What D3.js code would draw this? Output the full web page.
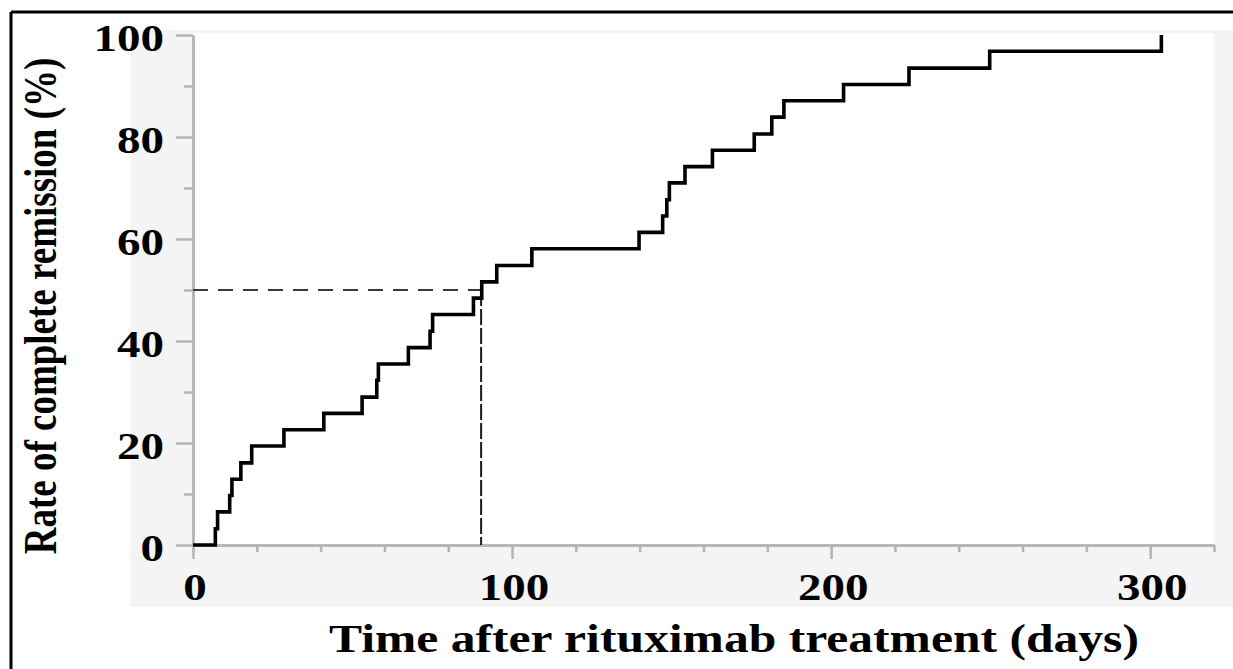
<!DOCTYPE html>
<html>
<head>
<meta charset="utf-8">
<script src="https://cdn.jsdelivr.net/npm/d3@7"></script>
<style>
    body { margin: 0; background: #fff; }
    svg { display: block; }
    .lbl { font-family: "Liberation Serif", "Times New Roman", serif; font-weight: bold; fill: #000; }
</style>
</head>
<body>
<div id="chart"></div>
<script>
// step times (days) and cumulative rate of complete remission (%)
var days = [0, 7, 7.7, 11.5, 12.2, 15, 18.4, 28.5, 41, 53, 57.6, 58.1, 67.5, 74.3, 75.1, 87.9, 90.5, 95.2, 106.2,
    139.8, 147.2, 148.5, 149.3, 154.2, 162.8, 175.9, 181.4, 185.2, 203.9, 224.4, 249.7, 303.5];
var rates = [0, 3.2, 6.5, 9.7, 12.9, 16.1, 19.4, 22.6, 25.8, 29.0, 32.3, 35.5, 38.7, 41.9, 45.2, 48.4, 51.6, 54.8, 58.1,
    61.3, 64.5, 67.7, 71.0, 74.2, 77.4, 80.6, 83.9, 87.1, 90.3, 93.5, 96.8, 100];
var yTicks = [0, 20, 40, 60, 80, 100];
var yMinorTicks = [10, 30, 50, 70, 90];
var xTicks = [0, 100, 200, 300];
var xMinorTicks = [20, 40, 60, 80, 120, 140, 160, 180, 220, 240, 260, 280, 320];
var median = { day: 90.3, rate: 50 };
var xTitle = "Time after rituximab treatment (days)";
var yTitle = "Rate of complete remission (%)";

var width = 1233, height = 669;
var stretch = 1.27; // the source picture is stretched sideways

var svg = d3.select("#chart").append("svg")
    .attr("width", width)
    .attr("height", height);

var x = d3.scaleLinear().domain([0, 320]).range([193, 1214]);
var y = d3.scaleLinear().domain([0, 100]).range([545, 35]);

// frame (top + left only) and grey panel
svg.append("rect").attr("x", 130).attr("y", 30).attr("width", width - 130).attr("height", 577).attr("fill", "#f4f4f4");
svg.append("rect").attr("x", x(0)).attr("y", 33).attr("width", x(320) - x(0)).attr("height", y(0) - 33).attr("fill", "#fff");
svg.append("line").attr("x1", 11).attr("x2", width).attr("y1", 12).attr("y2", 12).attr("stroke", "#000").attr("stroke-width", 3);
svg.append("line").attr("x1", 11).attr("x2", 11).attr("y1", 12).attr("y2", height).attr("stroke", "#000").attr("stroke-width", 3);

function styleAxis(g) {
    g.select(".domain").attr("stroke", "#b4b4b4").attr("stroke-width", 2.5);
    g.selectAll(".tick line").attr("stroke", "#b4b4b4").attr("stroke-width", 2.5);
    g.selectAll(".tick text").remove();
}

// y axis, major + minor ticks
svg.append("g").attr("transform", "translate(" + x(0) + ",0)")
    .call(d3.axisLeft(y).tickValues(yTicks).tickSize(17).tickSizeOuter(0))
    .call(styleAxis);
svg.append("g").attr("transform", "translate(" + x(0) + ",0)")
    .call(d3.axisLeft(y).tickValues(yMinorTicks).tickSize(9).tickSizeOuter(0))
    .call(styleAxis);

// x axis, major + minor ticks
svg.append("g").attr("transform", "translate(0," + y(0) + ")")
    .call(d3.axisBottom(x).tickValues(xTicks).tickSize(14).tickSizeOuter(0))
    .call(styleAxis);
svg.append("g").attr("transform", "translate(0," + y(0) + ")")
    .call(d3.axisBottom(x).tickValues(xMinorTicks).tickSize(7).tickSizeOuter(0))
    .call(styleAxis);

// tick labels (stretched like the source)
svg.selectAll(".ylbl").data(yTicks).enter().append("text")
    .attr("class", "lbl ylbl")
    .attr("transform", function (d) { return "translate(164," + (y(d) + 16) + ") scale(" + stretch + ",1)"; })
    .attr("text-anchor", "end")
    .style("font-size", "37px")
    .text(String);

svg.selectAll(".xlbl").data(xTicks).enter().append("text")
    .attr("class", "lbl xlbl")
    .attr("transform", function (d) { return "translate(" + (x(d) + 2) + ",600) scale(" + stretch + ",1)"; })
    .attr("text-anchor", "middle")
    .style("font-size", "37px")
    .text(String);

// axis titles
svg.append("text").attr("class", "lbl")
    .attr("transform", "translate(734,652) scale(1.24,1)")
    .attr("text-anchor", "middle")
    .style("font-size", "40px")
    .text(xTitle);

svg.append("text").attr("class", "lbl")
    .attr("transform", "translate(56,306) scale(" + stretch + ",1) rotate(-90)")
    .attr("text-anchor", "middle")
    .style("font-size", "37px")
    .text(yTitle);

// median reference lines
svg.append("line")
    .attr("x1", x(0)).attr("x2", x(median.day))
    .attr("y1", y(median.rate)).attr("y2", y(median.rate))
    .attr("stroke", "#3a3a3a").attr("stroke-width", 2.2)
    .attr("stroke-dasharray", "15,10");
svg.append("line")
    .attr("x1", x(median.day)).attr("x2", x(median.day))
    .attr("y1", y(median.rate)).attr("y2", y(0))
    .attr("stroke", "#1a1a1a").attr("stroke-width", 2)
    .attr("stroke-dasharray", "16,3");

// the step curve
var points = days.map(function (d, i) { return [d, rates[i]]; });
var line = d3.line()
    .x(function (d) { return x(d[0]); })
    .y(function (d) { return y(d[1]); })
    .curve(d3.curveStepAfter);

svg.append("path")
    .datum(points)
    .attr("d", line)
    .attr("fill", "none")
    .attr("stroke", "#000")
    .attr("stroke-width", 3.6)
    .attr("stroke-linejoin", "miter");
</script>
</body>
</html>
